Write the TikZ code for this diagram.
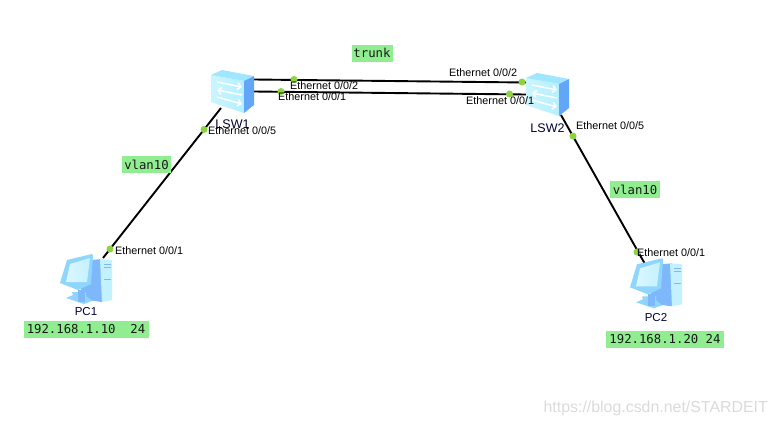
\documentclass[tikz,border=0pt]{standalone}
\usepackage{fontspec}
\usetikzlibrary{arrows.meta}
\setmainfont{Liberation Sans}
\setmonofont{DejaVu Sans Mono}
\definecolor{lblgreen}{HTML}{90EE90}
\definecolor{dotgreen}{HTML}{8CD43C}
\definecolor{swtop}{HTML}{A0E6FF}
\definecolor{swfront}{HTML}{B4F0FF}
\definecolor{swside}{HTML}{62A6F8}
\definecolor{pcdark}{HTML}{7FB8FA}
\definecolor{pclight}{HTML}{C4F1FF}
\definecolor{pcmid}{HTML}{8FD6FF}
\tikzset{
  link/.style={draw=black,line width=1.9pt},
  port/.style={circle,fill=dotgreen,inner sep=0pt,minimum size=7pt},
  iflabel/.style={font=\fontsize{10.8}{12}\selectfont,inner sep=0pt,anchor=west,text=black},
  devlabel/.style={font=\fontsize{12.5}{14}\selectfont,inner sep=0pt,text=black!80!blue},
  pclabel/.style={font=\fontsize{11.5}{13}\selectfont,inner sep=0pt,text=black!80!blue},
  tag/.style={fill=lblgreen,font=\ttfamily\fontsize{12.3}{14}\selectfont,inner sep=0pt,minimum height=17pt,text=black!90},
  anchorbox/.style={inner sep=0pt,minimum width=43pt,minimum height=43pt},
  pcbox/.style={inner sep=0pt,minimum width=52pt,minimum height=48pt},
  swarrow/.style={white,line width=1.5pt,-{Straight Barb[length=3.5pt,width=7pt]}}
}
\newcommand\swicon[2]{%
 \begin{scope}[shift={(#1,#2)}]
  \shade[left color=swfront!70!white,right color=swfront] (0,5) -- (33,11) -- (33,43) -- (0,32) -- cycle;
  \fill[swtop] (0,5) -- (11,0) -- (43,6) -- (33,11) -- cycle;
  \fill[swside] (33,11) -- (43,6) -- (43,35) -- (33,43) -- cycle;
  \draw[swarrow] (6,12) -- (31,17);
  \draw[swarrow] (31,25) -- (6,20);
  \draw[swarrow] (6,27) -- (31,34);
 \end{scope}}
\newcommand\pcicon[2]{%
 \begin{scope}[shift={(#1,#2)}]
  \fill[pcdark] (71,20) -- (82,19) -- (82,62) -- (67,60) -- (60,48) -- cycle;
  \fill[pclight] (80,19) -- (92,20) -- (92,60) -- (82,62) -- cycle;
  \fill[pcdark] (84,24) rectangle (91,25);
  \fill[pcdark] (84,27) rectangle (91,28);
  \fill[pcdark] (84,39) rectangle (91,40);
  \fill[pcmid] (52,52) -- (66,52) -- (66,56) -- (72,61) -- (64,64) -- (46,58) -- (53,55) -- cycle;
  \fill[pcdark] (58,50) rectangle (65,62);
  \fill[pcmid] (47,20) -- (72,14) -- (73,15) -- (71,44) -- (58,50) -- (40,43) -- cycle;
  \shade[left color=pclight!60!white,right color=pclight] (50,24) -- (70,18) -- (67,42) -- (46,42) -- cycle;
 \end{scope}}
\begin{document}
\begin{tikzpicture}[x=1pt,y=-1pt]
\useasboundingbox (0,0) rectangle (777,426);
\fill[white] (0,0) rectangle (777,426);
\node[anchorbox] (sw1) at (232.5,91.5) {};
\node[anchorbox] (sw2) at (547.5,94.5) {};
\node[pcbox] (pc1) at (86,279) {};
\node[pcbox] (pc2) at (657,284) {};
\coordinate (sw1d) at (221,108);
\coordinate (pc1u) at (103,258);
\coordinate (sw2d) at (561,115);
\coordinate (pc2u) at (645,264);
\draw[link] ([yshift=12pt]sw1.east) -- ([yshift=12pt]sw2.west);
\draw[link] (sw1.east) -- (sw2.west);
\draw[link] (sw1d) -- (pc1u);
\draw[link] (sw2d) -- (pc2u);
\swicon{211}{70}
\swicon{526}{73}
\pcicon{20}{240}
\pcicon{590}{244.3}
\node[port] (d1) at (294,79.5) {};
\node[port] (d2) at (522,82) {};
\node[port] (d3) at (281,91.5) {};
\node[port] (d4) at (509.5,94) {};
\node[port] (d5) at (204,129.5) {};
\node[port] (d6) at (110,249) {};
\node[port] (d7) at (573,136) {};
\node[port] (d8) at (637,252) {};
\node[iflabel] (t1) at (290,85.5) {Ethernet 0/0/2};
\node[iflabel] (t2) at (278,97) {Ethernet 0/0/1};
\node[iflabel] (t3) at (449,73) {Ethernet 0/0/2};
\node[iflabel] (t4) at (466,101) {Ethernet 0/0/1};
\node[iflabel] (t5) at (208,131) {Ethernet 0/0/5};
\node[iflabel] (t6) at (115,251) {Ethernet 0/0/1};
\node[iflabel] (t7) at (576,126) {Ethernet 0/0/5};
\node[iflabel] (t8) at (637,253) {Ethernet 0/0/1};
\node[devlabel] (l1) at (232.5,124) {LSW1};
\node[devlabel] (l2) at (547.5,128) {LSW2};
\node[pclabel] (l3) at (86,312) {PC1};
\node[pclabel] (l4) at (656,318) {PC2};
\node[tag,minimum width=41pt] (g1) at (372,53) {trunk};
\node[tag,minimum width=49pt] (g2) at (146.5,164.5) {vlan10};
\node[tag,minimum width=50pt] (g3) at (635,189.5) {vlan10};
\node[tag,minimum width=125pt] (g4) at (86,329) {192.168.1.10\ \ 24};
\node[tag,minimum width=118pt] (g5) at (665,339.5) {192.168.1.20 24};
\node[font=\fontsize{15.9}{18}\selectfont,text=black!14,inner sep=0pt,anchor=east] (wm) at (768,408) {https://blog.csdn.net/STARDEIT};
\end{tikzpicture}
\end{document}
